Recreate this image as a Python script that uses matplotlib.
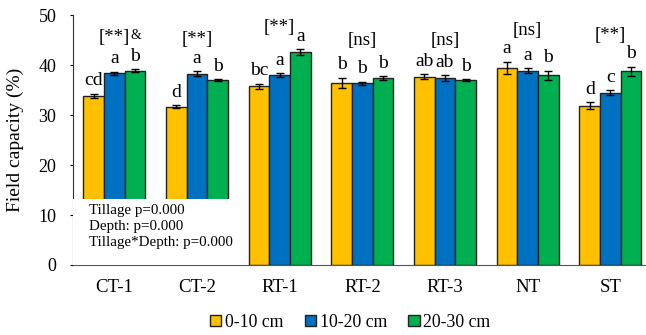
import numpy as np
import matplotlib.pyplot as plt
from matplotlib.patches import Rectangle

plt.rcParams['font.family'] = ['Liberation Serif', 'DejaVu Serif']

# tillage treatments and depth layers
treatments = ['CT-1', 'CT-2', 'RT-1', 'RT-2', 'RT-3', 'NT', 'ST']
depths = ['0-10 cm', '10-20 cm', '20-30 cm']
colors = ['#FFC000', '#0070C0', '#00B050']

# field capacity (%) per depth layer
fc_0_10 = [33.9, 31.7, 35.8, 36.5, 37.7, 39.5, 31.9]
fc_10_20 = [38.4, 38.3, 38.0, 36.4, 37.4, 38.9, 34.5]
fc_20_30 = [38.9, 37.0, 42.6, 37.4, 37.0, 38.0, 38.8]

# standard errors
se_0_10 = [0.4, 0.3, 0.5, 1.0, 0.5, 1.2, 0.7]
se_10_20 = [0.3, 0.5, 0.4, 0.3, 0.6, 0.5, 0.5]
se_20_30 = [0.3, 0.2, 0.6, 0.4, 0.2, 0.9, 0.9]

# significance letters and depth-effect brackets
letters_0_10 = ['cd', 'd', 'bc', 'b', 'ab', 'a', 'd']
letters_10_20 = ['a', 'a', 'a', 'b', 'ab', 'a', 'c']
letters_20_30 = ['b', 'b', 'a', 'b', 'b', 'b', 'b']
brackets = ['[**]', '[**]', '[**]', '[ns]', '[ns]', '[ns]', '[**]']

values = [fc_0_10, fc_10_20, fc_20_30]
errors = [se_0_10, se_10_20, se_20_30]
letters = [letters_0_10, letters_10_20, letters_20_30]

fig = plt.figure(figsize=(6.46, 3.35), dpi=100)
ax = fig.add_axes([0.113, 0.209, 0.892, 0.746])

x = np.arange(len(treatments))
w = 0.25
for j in range(3):
    xs = x + (j - 1) * w
    ax.bar(xs, values[j], w, color=colors[j], edgecolor='#222222',
           linewidth=1.0, label=depths[j], zorder=2)
    ax.errorbar(xs, values[j], yerr=errors[j], fmt='none', ecolor='black',
                elinewidth=1.0, capsize=3, capthick=1.0, zorder=3)
    for i in range(len(treatments)):
        ax.text(xs[i], values[j][i] + errors[j][i] + 0.9, letters[j][i],
                ha='center', va='bottom', fontsize=14, zorder=4)

# bracket above the letters of each group
for i in range(len(treatments)):
    top = max(values[j][i] + errors[j][i] for j in range(3))
    y = max(43.3, top + 4.6)
    if i == 2:
        y = top + 2.6
    ax.text(x[i], y, brackets[i], ha='center', va='bottom', fontsize=13.5, zorder=4)
ax.text(x[0] + 0.19, 44.6, '&', ha='left', va='bottom', fontsize=10, zorder=4)

# white panel with ANOVA results
ax.add_patch(Rectangle((-0.5, 0), 2.1, 13.2, facecolor='white', edgecolor='none', zorder=5))
ax.text(-0.31, 12.2, 'Tillage p=0.000\nDepth: p=0.000\nTillage*Depth: p=0.000',
        ha='left', va='top', fontsize=10.8, linespacing=1.3, zorder=6)

ax.set_xlim(-0.5, 6.47)
ax.set_ylim(0, 50)
ax.set_yticks(range(0, 51, 10))
ax.set_xticks(x)
ax.set_xticklabels(treatments, fontsize=13.5)
ax.tick_params(axis='y', labelsize=13, length=2, pad=10)
ax.tick_params(axis='x', length=0, pad=10)
ax.set_ylabel('Field capacity (%)', fontsize=14, labelpad=10)
for s in ['top', 'right']:
    ax.spines[s].set_visible(False)
ax.spines['left'].set_color('#333333')
ax.spines['bottom'].set_color('#555555')

ax.legend(loc='lower center', bbox_to_anchor=(0.542, -0.035), bbox_transform=fig.transFigure,
          ncol=3, frameon=False, fontsize=12.8, handlelength=0.65, handleheight=0.65,
          handletextpad=0.2, columnspacing=1.2)

fig.savefig('out.png', dpi=100)
